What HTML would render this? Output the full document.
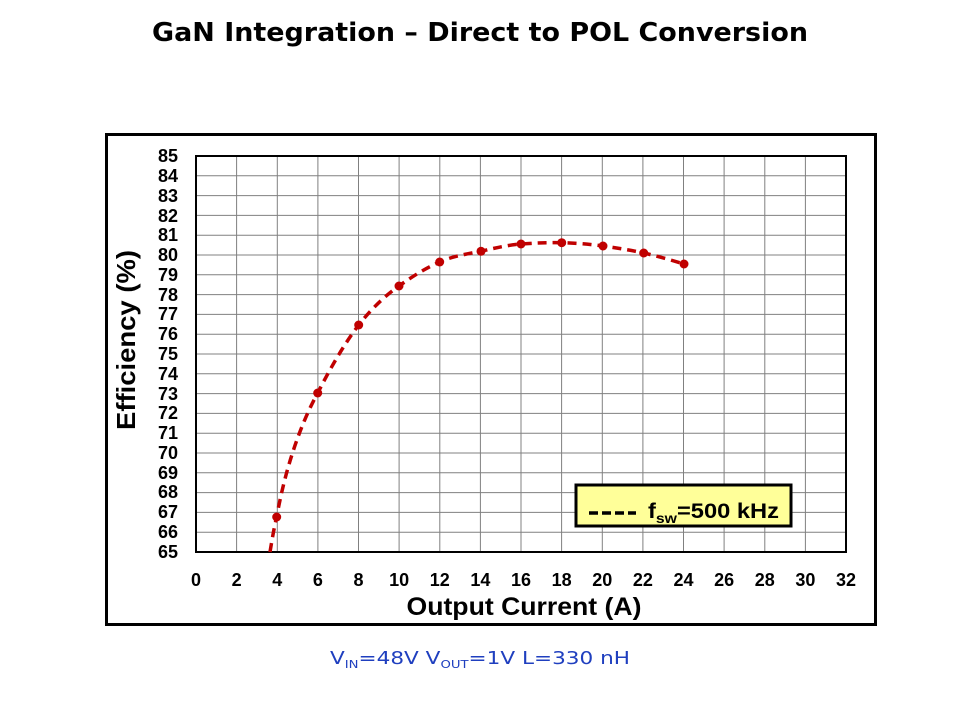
<!DOCTYPE html>
<html><head><meta charset="utf-8"><style>
body{margin:0;background:#fff;width:960px;height:720px;overflow:hidden}
</style></head><body>
<svg width="960" height="720" xmlns="http://www.w3.org/2000/svg" font-family="Liberation Sans, Arial, sans-serif">
<text x="480" y="41" text-anchor="middle" font-size="26" font-weight="bold" fill="#000" font-family="DejaVu Sans, sans-serif" textLength="656" lengthAdjust="spacingAndGlyphs">GaN Integration – Direct to POL Conversion</text>
<rect x="106.5" y="134.5" width="769" height="490" fill="#fff" stroke="#000" stroke-width="3"/>
<g stroke="#808080" stroke-width="1">
<line x1="236.6" y1="156" x2="236.6" y2="552"/><line x1="277.3" y1="156" x2="277.3" y2="552"/><line x1="317.9" y1="156" x2="317.9" y2="552"/><line x1="358.5" y1="156" x2="358.5" y2="552"/><line x1="399.1" y1="156" x2="399.1" y2="552"/><line x1="439.8" y1="156" x2="439.8" y2="552"/><line x1="480.4" y1="156" x2="480.4" y2="552"/><line x1="521" y1="156" x2="521" y2="552"/><line x1="561.6" y1="156" x2="561.6" y2="552"/><line x1="602.3" y1="156" x2="602.3" y2="552"/><line x1="642.9" y1="156" x2="642.9" y2="552"/><line x1="683.5" y1="156" x2="683.5" y2="552"/><line x1="724.1" y1="156" x2="724.1" y2="552"/><line x1="764.8" y1="156" x2="764.8" y2="552"/><line x1="805.4" y1="156" x2="805.4" y2="552"/>
<line x1="196" y1="175.8" x2="846" y2="175.8"/><line x1="196" y1="195.6" x2="846" y2="195.6"/><line x1="196" y1="215.4" x2="846" y2="215.4"/><line x1="196" y1="235.2" x2="846" y2="235.2"/><line x1="196" y1="255" x2="846" y2="255"/><line x1="196" y1="274.8" x2="846" y2="274.8"/><line x1="196" y1="294.6" x2="846" y2="294.6"/><line x1="196" y1="314.4" x2="846" y2="314.4"/><line x1="196" y1="334.2" x2="846" y2="334.2"/><line x1="196" y1="354" x2="846" y2="354"/><line x1="196" y1="373.8" x2="846" y2="373.8"/><line x1="196" y1="393.6" x2="846" y2="393.6"/><line x1="196" y1="413.4" x2="846" y2="413.4"/><line x1="196" y1="433.2" x2="846" y2="433.2"/><line x1="196" y1="453" x2="846" y2="453"/><line x1="196" y1="472.8" x2="846" y2="472.8"/><line x1="196" y1="492.6" x2="846" y2="492.6"/><line x1="196" y1="512.4" x2="846" y2="512.4"/><line x1="196" y1="532.2" x2="846" y2="532.2"/>
</g>
<rect x="196" y="156" width="650" height="396" fill="none" stroke="#000" stroke-width="2"/>
<g font-size="18" font-weight="bold" text-anchor="end" fill="#000">
<text x="178" y="162">85</text><text x="178" y="182">84</text><text x="178" y="202">83</text><text x="178" y="222">82</text><text x="178" y="241">81</text><text x="178" y="261">80</text><text x="178" y="281">79</text><text x="178" y="301">78</text><text x="178" y="320">77</text><text x="178" y="340">76</text><text x="178" y="360">75</text><text x="178" y="380">74</text><text x="178" y="400">73</text><text x="178" y="419">72</text><text x="178" y="439">71</text><text x="178" y="459">70</text><text x="178" y="479">69</text><text x="178" y="498">68</text><text x="178" y="518">67</text><text x="178" y="538">66</text><text x="178" y="558">65</text>
</g>
<g font-size="18" font-weight="bold" text-anchor="middle" fill="#000">
<text x="196" y="586">0</text><text x="236.6" y="586">2</text><text x="277.3" y="586">4</text><text x="317.9" y="586">6</text><text x="358.5" y="586">8</text><text x="399.1" y="586">10</text><text x="439.8" y="586">12</text><text x="480.4" y="586">14</text><text x="521" y="586">16</text><text x="561.6" y="586">18</text><text x="602.3" y="586">20</text><text x="642.9" y="586">22</text><text x="683.5" y="586">24</text><text x="724.1" y="586">26</text><text x="764.8" y="586">28</text><text x="805.4" y="586">30</text><text x="846" y="586">32</text>
</g>
<text x="524" y="615" text-anchor="middle" font-size="25" font-weight="bold" fill="#000" textLength="235" lengthAdjust="spacingAndGlyphs">Output Current (A)</text>
<text transform="translate(135,340) rotate(-90)" text-anchor="middle" font-size="26" font-weight="bold" fill="#000" textLength="180" lengthAdjust="spacingAndGlyphs">Efficiency (%)</text>
<path d="M270,552 C272,540 274,528 276.7,517 C285,470 300,425 317.7,393 C332,365 345,343 358.7,325 C372,308 386,295 399,286 C413,276 426,268 439.7,262 C453,256 467,254 481,251.3 C495,248 508,245 521,244 C535,243 548,242.5 561.7,242.7 C575,243 589,244 603,246 C617,248 630,250 643.7,253 C657,256 671,260 684,264" fill="none" stroke="#c00000" stroke-width="3.5" stroke-dasharray="9,6"/>
<g fill="#c00000">
<circle cx="276.7" cy="517" r="4.5"/><circle cx="317.7" cy="393" r="4.5"/><circle cx="358.7" cy="325" r="4.5"/><circle cx="399" cy="286" r="4.5"/><circle cx="439.7" cy="262" r="4.5"/><circle cx="481" cy="251.3" r="4.5"/><circle cx="521" cy="244" r="4.5"/><circle cx="561.7" cy="242.7" r="4.5"/><circle cx="603" cy="246" r="4.5"/><circle cx="643.7" cy="253" r="4.5"/><circle cx="684" cy="264" r="4.5"/>
</g>
<rect x="576" y="485" width="215" height="41" fill="#ffff99" stroke="#000" stroke-width="3"/>
<line x1="589" y1="513" x2="636" y2="513" stroke="#000" stroke-width="3.5" stroke-dasharray="9,4"/>
<text x="648" y="518" font-size="21" font-weight="bold" fill="#000" textLength="131" lengthAdjust="spacingAndGlyphs">f<tspan font-size="14" dy="5">sw</tspan><tspan dy="-5">=500 kHz</tspan></text>
<text x="330" y="664" font-size="18" fill="#1f3fbf" font-family="DejaVu Sans, sans-serif" textLength="300" lengthAdjust="spacingAndGlyphs">V<tspan font-size="11" dy="4">IN</tspan><tspan dy="-4">=48V  V</tspan><tspan font-size="11" dy="4">OUT</tspan><tspan dy="-4">=1V  L=330 nH</tspan></text>
</svg>
</body></html>
